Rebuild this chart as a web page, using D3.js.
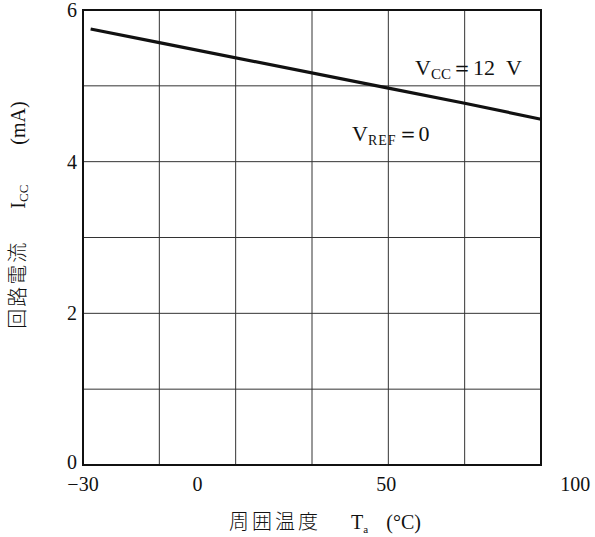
<!DOCTYPE html>
<html>
<head>
<meta charset="utf-8">
<script src="https://cdn.jsdelivr.net/npm/d3@7"></script>
<style>
  html, body { margin: 0; padding: 0; background: #fff; }
  svg { display: block; }
  text { font-family: "Liberation Serif", "DejaVu Serif", serif; fill: #111; }
  .cjk { font-family: "Noto Sans CJK JP", sans-serif; font-weight: 300; }
</style>
</head>
<body>
<svg id="chart" width="595" height="537"></svg>
<script>
// Supply current vs. ambient temperature (Vcc = 12 V, Vref = 0)
const temps = [-28, -10, 50, 70, 90];
const icc = [5.75, 5.57, 4.97, 4.77, 4.56];

const xTicks = [-30, 0, 50, 100];
const xTickLabels = ["\u221230", "0", "50", "100"];
const yTicks = [0, 2, 4, 6];
const xGrid = [-10, 10, 30, 50, 70];
const yGrid = [1, 2, 3, 4, 5];

const svg = d3.select("#chart");
const plotL = 83, plotR = 541, plotT = 10, plotB = 465;

const x = d3.scaleLinear().domain([-30, 90]).range([plotL, plotR]);
const y = d3.scaleLinear().domain([0, 6]).range([plotB, plotT]);

// grid
svg.append("g").selectAll("line").data(xGrid).join("line")
  .attr("x1", d => x(d)).attr("x2", d => x(d))
  .attr("y1", plotT).attr("y2", plotB)
  .attr("stroke", "#333").attr("stroke-width", 1);
svg.append("g").selectAll("line").data(yGrid).join("line")
  .attr("x1", plotL).attr("x2", plotR)
  .attr("y1", d => y(d)).attr("y2", d => y(d))
  .attr("stroke", "#333").attr("stroke-width", 1);

// frame
svg.append("rect")
  .attr("x", plotL).attr("y", plotT)
  .attr("width", plotR - plotL).attr("height", plotB - plotT)
  .attr("fill", "none").attr("stroke", "#111").attr("stroke-width", 2);

// tick labels
svg.append("g").selectAll("text").data(yTicks).join("text")
  .attr("x", plotL - 6).attr("y", d => y(d) + (d === 0 ? 4 : 7))
  .attr("text-anchor", "end").attr("font-size", 20)
  .text(d => d);

svg.append("g").selectAll("text").data(xTicks).join("text")
  .attr("x", d => x(d) - (d === -30 ? 0 : d / 25))
  .attr("y", 491)
  .attr("text-anchor", "middle").attr("font-size", 20)
  .text((d, i) => xTickLabels[i]);

// curve
const line = d3.line().x((d, i) => x(temps[i])).y(d => y(d));
svg.append("path").datum(icc)
  .attr("d", line)
  .attr("fill", "none").attr("stroke", "#111").attr("stroke-width", 3.2);

// annotations
const a1 = svg.append("text").attr("x", 415).attr("y", 75).attr("font-size", 22);
a1.append("tspan").text("V");
a1.append("tspan").attr("font-size", 15).attr("dy", 4).text("CC");
a1.append("tspan").attr("dy", -4).text("\uFF1D12\u2002V");

const a2 = svg.append("text").attr("x", 352).attr("y", 141).attr("font-size", 22);
a2.append("tspan").text("V");
a2.append("tspan").attr("font-size", 14).attr("dy", 4).attr("letter-spacing", 1).text("REF");
a2.append("tspan").attr("dy", -4).text("\uFF1D0");

// x axis title
const xt = svg.append("text").attr("x", 325).attr("y", 529)
  .attr("text-anchor", "middle").attr("font-size", 20);
xt.append("tspan").attr("class", "cjk").attr("letter-spacing", 3).text("周囲温度");
xt.append("tspan").attr("dx", 30).text("T");
xt.append("tspan").attr("font-size", 11).attr("dy", 4).text("a");
xt.append("tspan").attr("dy", -4).attr("dx", 18).text("(°C)");

// y axis title
const yt = svg.append("text")
  .attr("transform", "translate(25,215) rotate(-90)")
  .attr("text-anchor", "middle").attr("font-size", 20);
yt.append("tspan").attr("class", "cjk").attr("letter-spacing", 2).text("回路電流");
yt.append("tspan").attr("dx", 32).text("I");
yt.append("tspan").attr("font-size", 13).attr("dy", 3).text("CC");
yt.append("tspan").attr("dy", -3).attr("dx", 40).text("(mA)");
</script>
</body>
</html>
